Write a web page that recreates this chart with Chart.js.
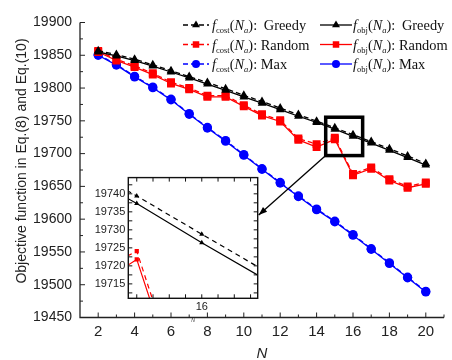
<!DOCTYPE html>
<html>
<head>
<meta charset="utf-8">
<script src="https://cdn.jsdelivr.net/npm/chart.js@4/dist/chart.umd.min.js"></script>
<style>
  body { margin: 0; background: #fff; }
  #wrap { position: relative; width: 452px; height: 360px; }
  #mainChart { position: absolute; left: 0; top: 0; }
  #insetChart { position: absolute; }
  .leg {
    position: absolute; height: 20px; line-height: 20px; white-space: nowrap;
    font-family: "Liberation Serif", "Times New Roman", serif; font-size: 14.4px; color: #111;
  }
  .leg sub { font-size: 8.5px; vertical-align: -3px; line-height: 0; }
  .gap { display: inline-block; width: 3px; }
</style>
</head>
<body>
<div id="wrap">
  <canvas id="mainChart" width="452" height="360"></canvas>
  <canvas id="insetChart"></canvas>
  <div class="leg" style="left:212px;top:15px"><i>f</i><sub>cost</sub>(<i>N</i><sub><i>a</i></sub>):<span class="gap"></span> Greedy</div>
  <div class="leg" style="left:212px;top:34.5px"><i>f</i><sub>cost</sub>(<i>N</i><sub><i>a</i></sub>): Random</div>
  <div class="leg" style="left:212px;top:54px"><i>f</i><sub>cost</sub>(<i>N</i><sub><i>a</i></sub>): Max</div>
  <div class="leg" style="left:353px;top:15px"><i>f</i><sub>obj</sub>(<i>N</i><sub><i>a</i></sub>):<span class="gap"></span> Greedy</div>
  <div class="leg" style="left:353px;top:34.5px"><i>f</i><sub>obj</sub>(<i>N</i><sub><i>a</i></sub>): Random</div>
  <div class="leg" style="left:353px;top:54px"><i>f</i><sub>obj</sub>(<i>N</i><sub><i>a</i></sub>): Max</div>
</div>
<script>
// values
const nValues = [2, 3, 4, 5, 6, 7, 8, 9, 10, 11, 12, 13, 14, 15, 16, 17, 18, 19, 20];
const greedyCost = [19857, 19851, 19844, 19835.5, 19826.5, 19817.5, 19808.5, 19799, 19789, 19779.5, 19769.5, 19759.5, 19749.5, 19739.4, 19728.8, 19718.3, 19707.5, 19696.5, 19685];
const greedyObj = [19855, 19849, 19842, 19833.5, 19824.5, 19815.5, 19806, 19796.5, 19786.5, 19777, 19767, 19757, 19747.5, 19737.3, 19726.4, 19716, 19705, 19694, 19682.5];
const randomCost = [19856.5, 19844, 19834, 19822.5, 19809, 19800, 19788.5, 19788.5, 19774, 19760, 19751, 19723, 19714.5, 19724.1, 19669, 19679, 19661, 19650, 19656];
const randomObj = [19855, 19842, 19832, 19820.5, 19807, 19798, 19786.5, 19786.5, 19772, 19758, 19749, 19721, 19710, 19721.8, 19667, 19677, 19659, 19648, 19654];
const maxCost = [19851, 19836, 19818, 19801.5, 19783, 19761, 19740, 19720, 19698.5, 19677, 19656, 19635.5, 19615.5, 19597, 19576.5, 19555, 19533.5, 19511.5, 19490];
const maxObj = [19850, 19835, 19817, 19800.5, 19782, 19760, 19739, 19719, 19697.5, 19676, 19655, 19634.5, 19614.5, 19596, 19575.5, 19554, 19532.5, 19510.5, 19489];

const xTicks = [2, 4, 6, 8, 10, 12, 14, 16, 18, 20];
const yTicks = [19450, 19500, 19550, 19600, 19650, 19700, 19750, 19800, 19850, 19900];
const insetXTicks = [16];
const insetYTicks = [19715, 19720, 19725, 19730, 19735, 19740];

const series = [
  { data: greedyCost, color: "#000000", style: "triangle", dashed: true },
  { data: greedyObj, color: "#000000", style: "triangle", dashed: false },
  { data: randomCost, color: "#ff0000", style: "rect", dashed: true },
  { data: randomObj, color: "#ff0000", style: "rect", dashed: false },
  { data: maxCost, color: "#0000ff", style: "circle", dashed: true },
  { data: maxObj, color: "#0000ff", style: "circle", dashed: false },
];

const radiusFor = { triangle: 5, rect: 5.6, circle: 4.6 };

const buildDatasets = (small) => series.map((s) => ({
  data: nValues.map((n, i) => ({ x: n, y: s.data[i] })),
  borderColor: s.color,
  backgroundColor: s.color,
  borderWidth: small ? 1.2 : 1.3,
  borderDash: s.dashed ? (small ? [5, 4] : [5, 3]) : [],
  pointStyle: s.style,
  pointRadius: small ? 3 : radiusFor[s.style],
  pointBorderWidth: 0,
  pointBackgroundColor: s.color,
  tension: 0,
}));

// inset box on page
const INSET = { left: 128.3, top: 175.7, right: 257.7, bottom: 298.3 };
const INSET_CANVAS = { left: 86, top: 168, width: 178, height: 162 };

// main chart decoration: axes, inward ticks, titles, zoom box, arrow, legend samples
const mainDecor = {
  id: "mainDecor",
  beforeDatasetsDraw(chart) {
    const { ctx, chartArea: a, scales: { x, y } } = chart;
    ctx.save();
    ctx.strokeStyle = "#222";
    ctx.lineWidth = 1.3;
    ctx.beginPath();
    ctx.moveTo(a.left, y.getPixelForValue(19900));
    ctx.lineTo(a.left, a.bottom);
    ctx.lineTo(a.right, a.bottom);
    ctx.stroke();
    ctx.lineWidth = 1;
    ctx.beginPath();
    for (let v = 19450; v <= 19900; v += 25) {
      const py = y.getPixelForValue(v);
      const len = v % 50 === 0 ? 5 : 3;
      ctx.moveTo(a.left, py);
      ctx.lineTo(a.left + len, py);
    }
    for (let v = 2; v <= 21; v += 1) {
      const px = x.getPixelForValue(v);
      const len = v % 2 === 0 ? 5 : 3;
      ctx.moveTo(px, a.bottom);
      ctx.lineTo(px, a.bottom - len);
    }
    ctx.stroke();
    ctx.restore();
  },
  afterDatasetsDraw(chart) {
    const { ctx, scales: { x, y } } = chart;
    const bx0 = x.getPixelForValue(14.5), bx1 = x.getPixelForValue(16.53);
    const by0 = y.getPixelForValue(19755.5), by1 = y.getPixelForValue(19697);
    ctx.save();
    ctx.strokeStyle = "#000";
    ctx.lineWidth = 3.5;
    ctx.strokeRect(bx0, by0, bx1 - bx0, by1 - by0);
    // arrow to inset
    const ex = INSET.right + 1, ey = 215;
    ctx.lineWidth = 1.3;
    ctx.beginPath();
    ctx.moveTo(bx0, by1);
    ctx.lineTo(ex, ey);
    ctx.stroke();
    const ang = Math.atan2(ey - by1, ex - bx0);
    ctx.beginPath();
    ctx.moveTo(ex, ey);
    ctx.lineTo(ex - 9 * Math.cos(ang - 0.35), ey - 9 * Math.sin(ang - 0.35));
    ctx.lineTo(ex - 9 * Math.cos(ang + 0.35), ey - 9 * Math.sin(ang + 0.35));
    ctx.closePath();
    ctx.fillStyle = "#000";
    ctx.fill();
    ctx.restore();
  },
  afterDraw(chart) {
    const { ctx, chartArea: a } = chart;
    ctx.save();
    ctx.fillStyle = "#222";
    ctx.textAlign = "center";
    ctx.textBaseline = "middle";
    ctx.translate(22, 161);
    ctx.rotate(-Math.PI / 2);
    ctx.font = '14px "Liberation Sans", Arial, sans-serif';
    ctx.fillText("Objective function in Eq.(8) and Eq.(10)", 0, 0);
    ctx.restore();

    ctx.save();
    ctx.fillStyle = "#222";
    ctx.textAlign = "center";
    ctx.textBaseline = "middle";
    ctx.font = 'italic 15px "Liberation Sans", Arial, sans-serif';
    ctx.fillText("N", (a.left + a.right) / 2, 354);
    ctx.restore();

    // legend samples
    const rows = [25, 44.5, 64];
    series.forEach((s, i) => {
      const row = rows[Math.floor(i / 2)];
      const x0 = s.dashed ? 183 : 320;
      const x1 = s.dashed ? 209 : 352;
      const xm = s.dashed ? 196 : 336;
      ctx.save();
      ctx.strokeStyle = s.color;
      ctx.fillStyle = s.color;
      ctx.lineWidth = 1.3;
      ctx.setLineDash(s.dashed ? [5, 3] : []);
      ctx.beginPath();
      ctx.moveTo(x0, row);
      ctx.lineTo(x1, row);
      ctx.stroke();
      ctx.setLineDash([]);
      Chart.helpers.drawPoint(ctx, {
        pointStyle: s.style,
        radius: s.style === "circle" ? 4 : 4.6,
        rotation: 0,
        borderWidth: 0,
      }, xm, row);
      ctx.restore();
    });
  },
};

new Chart(document.getElementById("mainChart"), {
  type: "line",
  data: { datasets: buildDatasets(false) },
  options: {
    responsive: false,
    animation: false,
    layout: { padding: { top: 22.5, right: 8, left: 0, bottom: 0 } },
    plugins: { legend: { display: false }, tooltip: { enabled: false } },
    scales: {
      x: {
        type: "linear",
        min: 1,
        max: 21,
        grid: { display: false, drawTicks: false },
        border: { display: false },
        afterBuildTicks: (scale) => { scale.ticks = xTicks.map((v) => ({ value: v })); },
        afterFit: (scale) => { scale.height = 42.5; },
        ticks: {
          padding: 5,
          color: "#222",
          font: { family: '"Liberation Sans", Arial, sans-serif', size: 15 },
          callback: (v) => String(v),
        },
      },
      y: {
        type: "linear",
        min: 19450,
        max: 19900,
        grid: { display: false, drawTicks: false },
        border: { display: false },
        afterBuildTicks: (scale) => { scale.ticks = yTicks.map((v) => ({ value: v })); },
        afterFit: (scale) => { scale.width = 80; },
        ticks: {
          padding: 8,
          color: "#222",
          font: { family: '"Liberation Sans Narrow", "Liberation Sans", Arial, sans-serif', size: 14 },
          callback: (v) => String(v),
        },
      },
    },
  },
  plugins: [mainDecor],
});

// inset chart
const insetCanvas = document.getElementById("insetChart");
insetCanvas.width = INSET_CANVAS.width;
insetCanvas.height = INSET_CANVAS.height;
insetCanvas.style.left = INSET_CANVAS.left + "px";
insetCanvas.style.top = INSET_CANVAS.top + "px";

const insetDecor = {
  id: "insetDecor",
  beforeDraw(chart) {
    const { ctx, chartArea: a } = chart;
    ctx.save();
    ctx.fillStyle = "#fff";
    ctx.fillRect(a.left, a.top, a.right - a.left, a.bottom - a.top);
    ctx.restore();
  },
  afterDraw(chart) {
    const { ctx, chartArea: a, scales: { x, y } } = chart;
    ctx.save();
    ctx.strokeStyle = "#111";
    ctx.lineWidth = 1.4;
    ctx.strokeRect(a.left, a.top, a.right - a.left, a.bottom - a.top);
    ctx.lineWidth = 1;
    ctx.beginPath();
    for (let v = 15; v <= 16.8; v += 0.25) {
      const px = x.getPixelForValue(v);
      ctx.moveTo(px, a.top); ctx.lineTo(px, a.top + 4);
      ctx.moveTo(px, a.bottom); ctx.lineTo(px, a.bottom - 4);
    }
    for (let v = 19712.5; v <= 19744; v += 2.5) {
      const py = y.getPixelForValue(v);
      ctx.moveTo(a.left, py); ctx.lineTo(a.left + 4, py);
      ctx.moveTo(a.right, py); ctx.lineTo(a.right - 4, py);
    }
    ctx.stroke();
    ctx.fillStyle = "#333";
    ctx.textAlign = "center";
    ctx.textBaseline = "middle";
    ctx.font = 'italic 5px "Liberation Sans", Arial, sans-serif';
    ctx.fillText("N", (a.left + a.right) / 2, 320.7 - INSET_CANVAS.top);
    ctx.restore();
  },
};

new Chart(insetCanvas, {
  type: "line",
  data: { datasets: buildDatasets(true) },
  options: {
    responsive: false,
    animation: false,
    layout: {
      padding: {
        top: INSET.top - INSET_CANVAS.top,
        right: INSET_CANVAS.left + INSET_CANVAS.width - INSET.right,
        left: 0,
        bottom: 0,
      },
    },
    plugins: { legend: { display: false }, tooltip: { enabled: false } },
    scales: {
      x: {
        type: "linear",
        min: 14.87,
        max: 16.86,
        grid: { display: false, drawTicks: false },
        border: { display: false },
        afterBuildTicks: (scale) => { scale.ticks = insetXTicks.map((v) => ({ value: v })); },
        afterFit: (scale) => { scale.height = INSET_CANVAS.top + INSET_CANVAS.height - INSET.bottom; },
        ticks: {
          padding: 2,
          color: "#222",
          font: { family: '"Liberation Sans", Arial, sans-serif', size: 11 },
          callback: (v) => String(v),
        },
      },
      y: {
        type: "linear",
        min: 19711,
        max: 19744.5,
        grid: { display: false, drawTicks: false },
        border: { display: false },
        afterBuildTicks: (scale) => { scale.ticks = insetYTicks.map((v) => ({ value: v })); },
        afterFit: (scale) => { scale.width = INSET.left - INSET_CANVAS.left; },
        ticks: {
          padding: 3,
          color: "#222",
          font: { family: '"Liberation Sans", Arial, sans-serif', size: 11 },
          callback: (v) => String(v),
        },
      },
    },
  },
  plugins: [insetDecor],
});
</script>
</body>
</html>
